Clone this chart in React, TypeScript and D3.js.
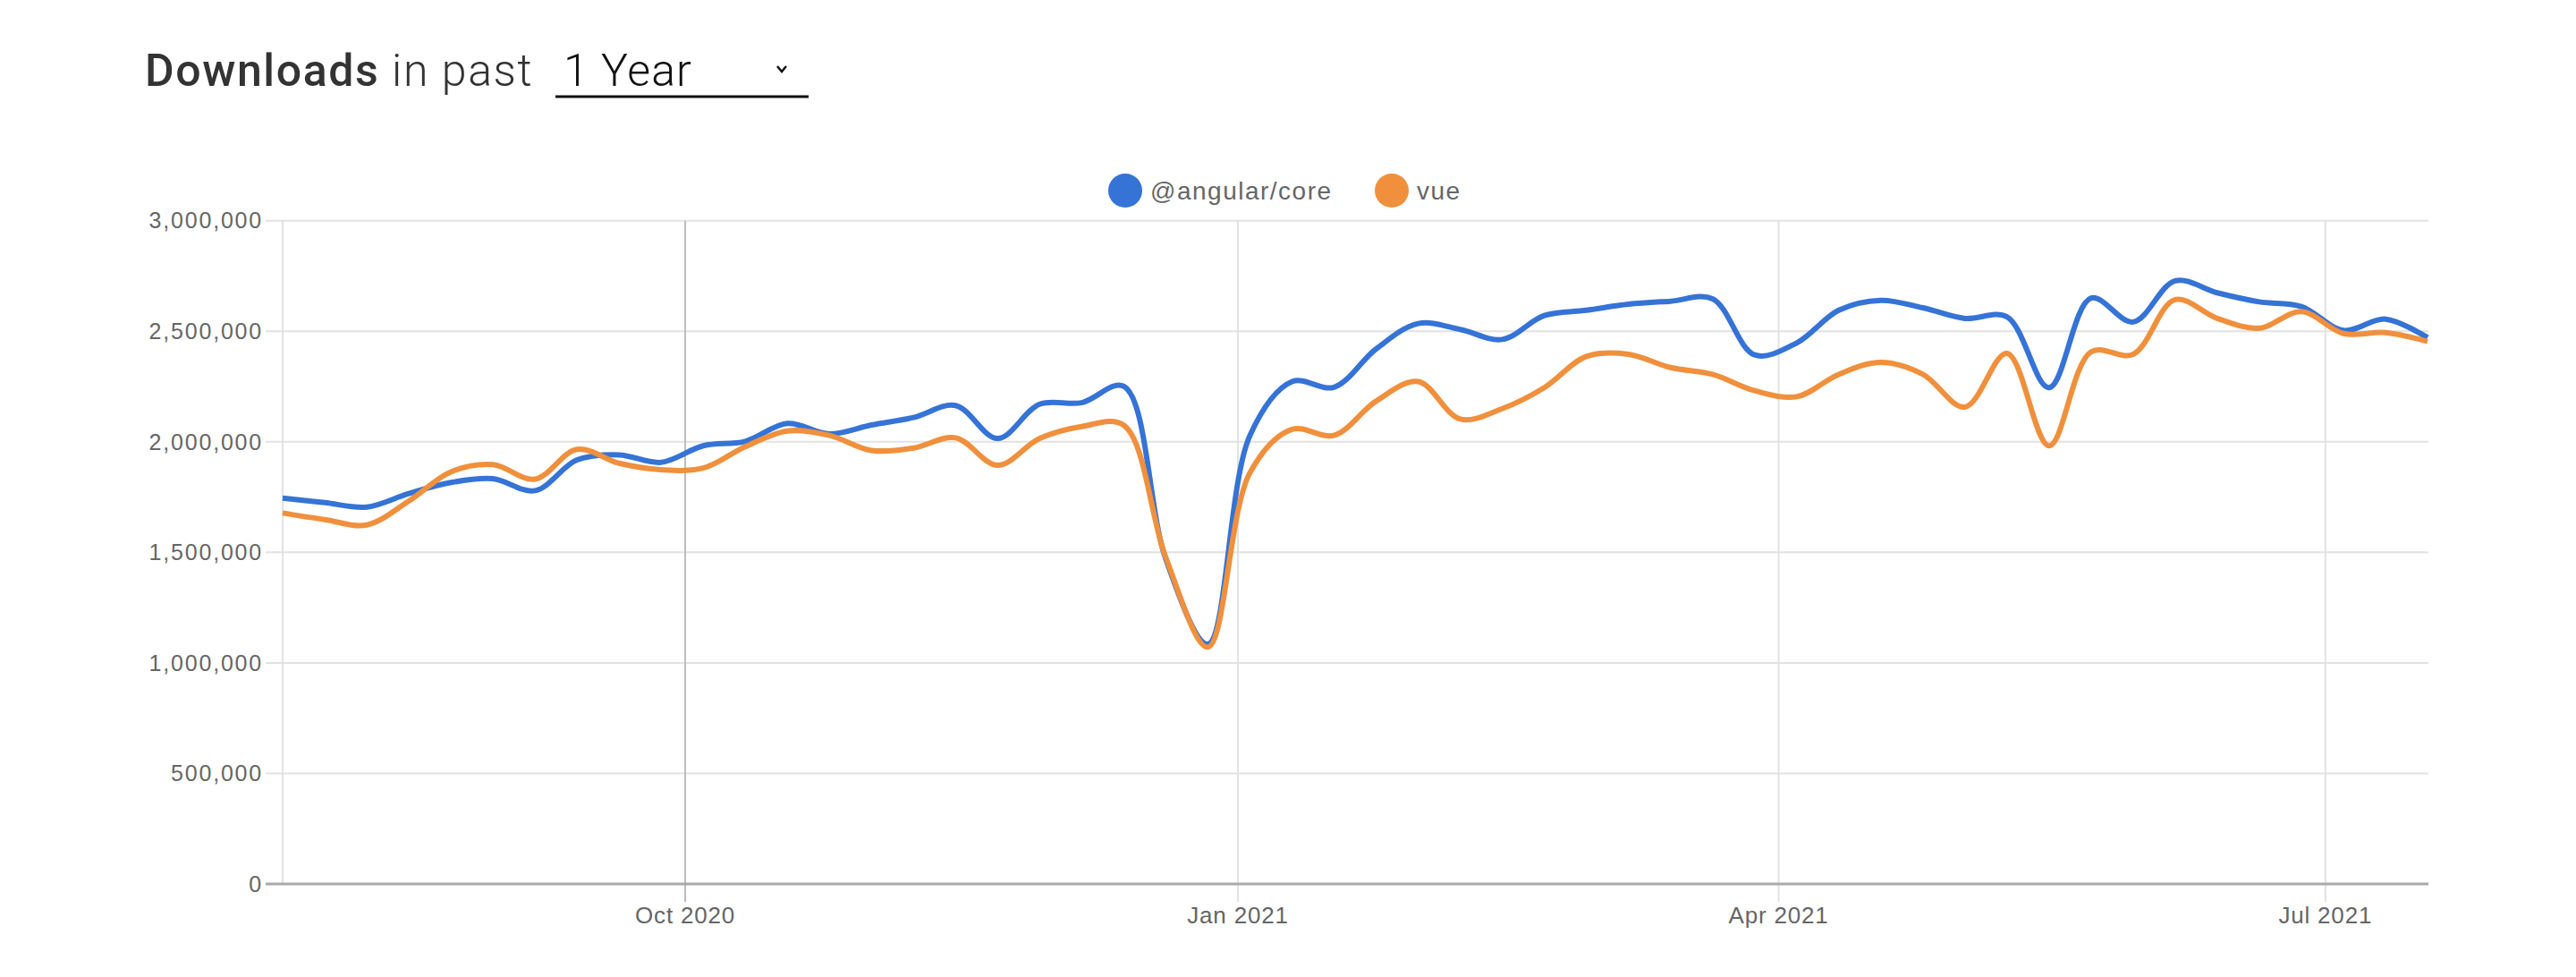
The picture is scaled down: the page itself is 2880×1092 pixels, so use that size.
import React, { useEffect, useRef } from "react";
import * as d3 from "d3";

// weekly points (week start)
const weeks = [
  "2020-07-26", "2020-08-02", "2020-08-09", "2020-08-16", "2020-08-23", "2020-08-30",
  "2020-09-06", "2020-09-13", "2020-09-20", "2020-09-27", "2020-10-04", "2020-10-11",
  "2020-10-18", "2020-10-25", "2020-11-01", "2020-11-08", "2020-11-15", "2020-11-22",
  "2020-11-29", "2020-12-06", "2020-12-13", "2020-12-20", "2020-12-27", "2021-01-03",
  "2021-01-10", "2021-01-17", "2021-01-24", "2021-01-31", "2021-02-07", "2021-02-14",
  "2021-02-21", "2021-02-28", "2021-03-07", "2021-03-14", "2021-03-21", "2021-03-28",
  "2021-04-04", "2021-04-11", "2021-04-18", "2021-04-25", "2021-05-02", "2021-05-09",
  "2021-05-16", "2021-05-23", "2021-05-30", "2021-06-06", "2021-06-13", "2021-06-20",
  "2021-06-27", "2021-07-04", "2021-07-11", "2021-07-18",
];

const angularCore = [
  1745500, 1725000, 1705000, 1766000, 1816000, 1833000, 1779000, 1918000, 1941000,
  1907000, 1982000, 2002000, 2083000, 2036000, 2076000, 2110000, 2164000, 2015000,
  2170000, 2177000, 2251000, 1469000, 1085000, 2029000, 2272000, 2247000, 2420000,
  2535000, 2508000, 2463000, 2571000, 2595000, 2622000, 2636000, 2647000,
  2393000, 2447000, 2595000, 2640000, 2606000, 2558000, 2565000, 2245000, 2650000,
  2542000, 2728000, 2674000, 2633000, 2612000, 2504000, 2555000, 2471000,
];

const vue = [
  1678000, 1648000, 1624000, 1732000, 1864000, 1897000, 1831000, 1966000, 1903000,
  1874000, 1881000, 1978000, 2049000, 2029000, 1961000, 1972000, 2018000, 1894000,
  2015000, 2069000, 2075000, 1476000, 1071000, 1860000, 2056000, 2029000, 2184000,
  2272000, 2103000, 2150000, 2245000, 2386000, 2396000, 2336000, 2305000,
  2231000, 2204000, 2305000, 2359000, 2305000, 2157000, 2400000, 1982000, 2407000,
  2396000, 2643000, 2558000, 2514000, 2589000, 2490000, 2494000, 2454000,
];

const seriesNames = ["@angular/core", "vue"];
const seriesColors = ["#3573d6", "#f0903d"];
const xTicks = ["2020-10-01", "2021-01-01", "2021-04-01", "2021-07-01"];
const yTicks = [0, 500000, 1000000, 1500000, 2000000, 2500000, 3000000];

const WIDTH = 2880;
const HEIGHT = 1092;

export default function App() {
  const ref = useRef<SVGSVGElement>(null);

  useEffect(() => {
    const svg = d3.select(ref.current);
    svg.selectAll("*").remove();

    const parse = d3.utcParse("%Y-%m-%d");
    const dates = weeks.map((w) => parse(w) as Date);

    const left = 316;
    const right = 2714;
    const top = 246.7;
    const bottom = 988;

    const x = d3.scaleUtc().domain([dates[0], dates[dates.length - 1]]).range([left, right]);
    const y = d3.scaleLinear().domain([0, 3000000]).range([bottom, top]);

    // Title row
    const title = svg
      .append("text")
      .attr("x", 162)
      .attr("y", 96)
      .style("font-family", "Roboto, 'Liberation Sans', sans-serif")
      .style("font-size", "50px")
      .style("letter-spacing", "1.6px")
      .style("fill", "#333");
    title.append("tspan").text("Downloads").style("font-weight", 500);
    title.append("tspan").text(" in past").style("font-weight", 300);

    svg
      .append("text")
      .attr("x", 630)
      .attr("y", 96)
      .text("1 Year")
      .style("font-family", "Roboto, 'Liberation Sans', sans-serif")
      .style("font-size", "50px")
      .style("font-weight", 300)
      .style("letter-spacing", "1px")
      .style("fill", "#111");

    svg
      .append("path")
      .attr("d", "M869,74 L874,80 L879,74")
      .attr("fill", "none")
      .attr("stroke", "#111")
      .attr("stroke-width", 2.5);

    svg
      .append("line")
      .attr("x1", 621)
      .attr("x2", 904)
      .attr("y1", 108)
      .attr("y2", 108)
      .attr("stroke", "#111")
      .attr("stroke-width", 3);

    // Legend
    const legendX = [1258, 1556];
    seriesNames.forEach((name, i) => {
      svg
        .append("circle")
        .attr("cx", legendX[i])
        .attr("cy", 213)
        .attr("r", 19)
        .attr("fill", seriesColors[i]);
      svg
        .append("text")
        .attr("x", legendX[i] + 28)
        .attr("y", 223)
        .text(name)
        .style("font-family", "'Liberation Sans', Arial, sans-serif")
        .style("font-size", "28px")
        .style("letter-spacing", "1.5px")
        .style("fill", "#666");
    });

    // Horizontal grid + y labels
    const yAxis = svg.append("g");
    yTicks.forEach((t) => {
      if (t > 0) {
        yAxis
          .append("line")
          .attr("x1", left - 19)
          .attr("x2", right + 1)
          .attr("y1", y(t))
          .attr("y2", y(t))
          .attr("stroke", "#e2e2e2")
          .attr("stroke-width", 2);
      }
      yAxis
        .append("text")
        .attr("x", 294)
        .attr("y", y(t))
        .attr("dy", "0.35em")
        .attr("text-anchor", "end")
        .text(d3.format(",")(t))
        .style("font-family", "'Liberation Sans', Arial, sans-serif")
        .style("font-size", "25px")
        .style("letter-spacing", "1.8px")
        .style("fill", "#666");
    });

    // left border
    svg
      .append("line")
      .attr("x1", left)
      .attr("x2", left)
      .attr("y1", top)
      .attr("y2", bottom)
      .attr("stroke", "#e2e2e2")
      .attr("stroke-width", 2);

    // Vertical grid + x labels
    xTicks.forEach((t, i) => {
      const d = parse(t) as Date;
      svg
        .append("line")
        .attr("x1", x(d))
        .attr("x2", x(d))
        .attr("y1", top)
        .attr("y2", bottom + 20)
        .attr("stroke", i === 0 ? "#bdbdbd" : "#e2e2e2")
        .attr("stroke-width", 2);
      svg
        .append("text")
        .attr("x", x(d))
        .attr("y", 1032)
        .attr("text-anchor", "middle")
        .text(d3.utcFormat("%b %Y")(d))
        .style("font-family", "'Liberation Sans', Arial, sans-serif")
        .style("font-size", "26px")
        .style("letter-spacing", "0.8px")
        .style("fill", "#666");
    });

    // baseline
    svg
      .append("line")
      .attr("x1", left - 19)
      .attr("x2", right + 1)
      .attr("y1", bottom)
      .attr("y2", bottom)
      .attr("stroke", "#aaaaaa")
      .attr("stroke-width", 3);

    // Lines
    const line = d3
      .line<number>()
      .x((_, i) => x(dates[i]))
      .y((v) => y(v))
      .curve(d3.curveCatmullRom.alpha(0.5));

    [angularCore, vue].forEach((values, i) => {
      svg
        .append("path")
        .datum(values)
        .attr("d", line)
        .attr("fill", "none")
        .attr("stroke", seriesColors[i])
        .attr("stroke-width", 6)
        .attr("stroke-linejoin", "round");
    });
  }, []);

  return (
    <div style={{ position: "absolute", left: 0, top: 0 }}>
      <svg ref={ref} width={WIDTH} height={HEIGHT} style={{ display: "block", background: "#fff" }} />
    </div>
  );
}
